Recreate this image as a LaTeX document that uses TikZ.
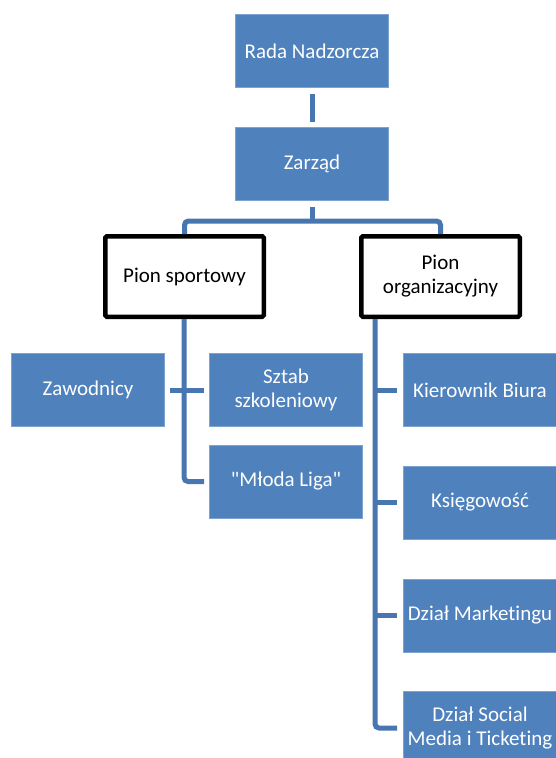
\documentclass[tikz,border=0pt]{standalone}
\usepackage{fontspec}
\setmainfont{Carlito}[Ligatures={TeXOff,CommonOff}]
\usetikzlibrary{calc}
\definecolor{boxblue}{HTML}{4F81BD}
\definecolor{boxedge}{HTML}{7FA3D0}
\definecolor{lineblue}{HTML}{4876B1}
\tikzset{
  bluebox/.style={rectangle, fill=boxblue, draw=boxedge, line width=0.8pt,
    minimum width=153pt, minimum height=73pt, inner sep=2pt,
    text=white, align=center, font=\fontsize{21pt}{24pt}\selectfont},
  pionbox/.style={rectangle, fill=white, draw=black, line width=4.5pt,
    rounded corners=1.5pt, minimum width=158.5pt, minimum height=80.5pt,
    text=black, align=center, font=\fontsize{21pt}{24pt}\selectfont},
  conn/.style={draw=lineblue, line width=5pt, rounded corners=4pt}
}
\begin{document}
\begin{tikzpicture}[x=1pt,y=-1pt]
\clip (0,0) rectangle (556,758);
\fill[white] (0,0) rectangle (556,758);
% nodes
\node[bluebox] (rada) at (312,51) {Rada Nadzorcza};
\node[bluebox] (zarz) at (312,164) {Zarząd};
\node[pionbox] (ps) at (184.5,276.5) {Pion sportowy};
\node[pionbox] (po) at (440.5,276.5) {Pion\\organizacyjny};
\node[bluebox] (zaw) at (88,390) {Zawodnicy};
\node[bluebox] (sztab) at (286,390) {Sztab\\szkoleniowy};
\node[bluebox] (mloda) at (286,481.5) {"Młoda Liga"};
\node[bluebox] (kier) at (480,390) {Kierownik Biura};
\node[bluebox] (ksieg) at (480,502.5) {Księgowość};
\node[bluebox] (mark) at (480,615.5) {Dział Marketingu};
\node[bluebox] (social) at (480,728) {Dział Social\\Media i Ticketing};
% connectors
\coordinate (bar) at (312,221);
\draw[conn] ($(rada.south)+(0,6)$) -- ($(zarz.north)+(0,-5)$);
\draw[conn] ($(zarz.south)+(0,6)$) -- (bar);
\draw[conn] (ps.north) |- (bar) -| (po.north);
% sportowy branch
\coordinate (psx) at ($(ps.south)+(-0.5,0)$);
\draw[conn] (psx) |- ($(mloda.west)+(-5,0)$);
\draw[conn] ($(zaw.east)+(5,0)$) -- ($(sztab.west)+(-5,0)$);
% organizacyjny branch
\coordinate (pox) at ($(po.south west)+(16,0)$);
\draw[conn] (pox) |- ($(social.west)+(-6,0)$);
\draw[conn] (kier.west -| pox) -- ($(kier.west)+(-6,0)$);
\draw[conn] (ksieg.west -| pox) -- ($(ksieg.west)+(-6,0)$);
\draw[conn] (mark.west -| pox) -- ($(mark.west)+(-6,0)$);
\end{tikzpicture}
\end{document}
